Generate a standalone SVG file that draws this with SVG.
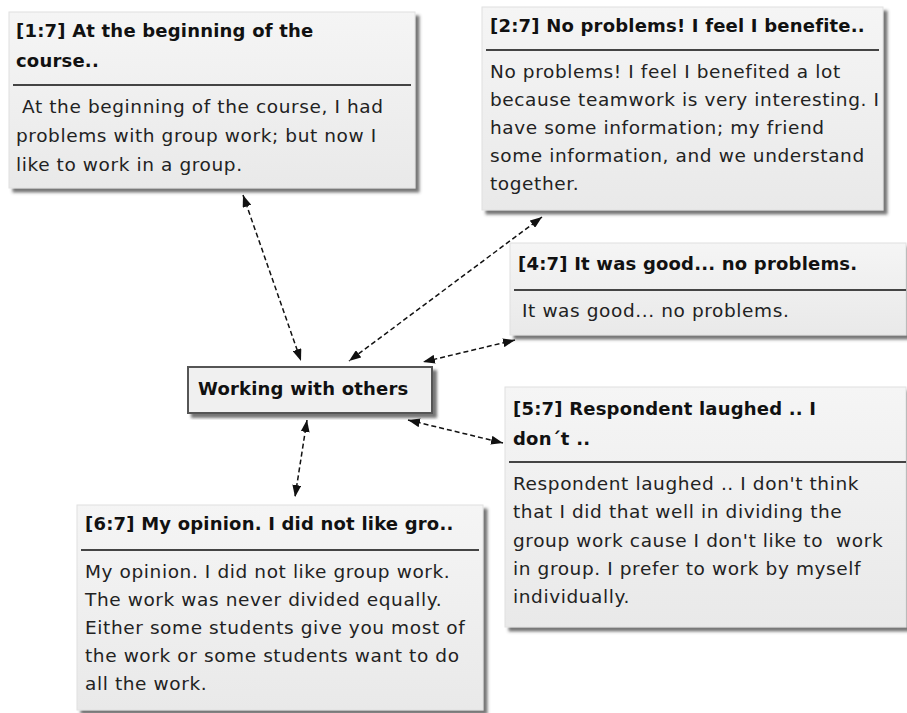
<svg xmlns="http://www.w3.org/2000/svg" width="907" height="713" viewBox="0 0 907 713">
<defs>
<linearGradient id="g" x1="0" y1="0" x2="0" y2="1">
<stop offset="0" stop-color="#f5f5f5"/>
<stop offset="1" stop-color="#e9e9e9"/>
</linearGradient>
<filter id="sh" x="-5%" y="-5%" width="115%" height="120%">
<feDropShadow dx="4" dy="4" stdDeviation="1.5" flood-color="#555" flood-opacity="0.8"/>
</filter>
<marker id="ah" viewBox="0 0 12 9" refX="12" refY="4.5" markerWidth="12" markerHeight="9" markerUnits="userSpaceOnUse" orient="auto-start-reverse">
<path d="M0,0 L12,4.5 L0,9 z" fill="#111"/>
</marker>
</defs>
<style>
.box{fill:url(#g);stroke:#e0e0e0;stroke-width:1;filter:url(#sh)}
.div{stroke:#444;stroke-width:2}
.t{font-family:"DejaVu Sans",Tahoma,sans-serif;font-size:18px;letter-spacing:0.2px;font-weight:bold;fill:#111}
.b{font-family:"DejaVu Sans",Tahoma,sans-serif;font-size:18.5px;letter-spacing:0.6px;fill:#222}
.c{fill:none;stroke:#111;stroke-width:1.5;stroke-dasharray:5,3;marker-start:url(#ah);marker-end:url(#ah)}
</style>
<rect width="907" height="713" fill="#fff"/>
<g id="connectors">
<line class="c" x1="243" y1="195" x2="301" y2="361"/>
<line class="c" x1="542" y1="217" x2="349" y2="361"/>
<line class="c" x1="515" y1="340" x2="423" y2="362"/>
<line class="c" x1="408" y1="420" x2="503" y2="443"/>
<line class="c" x1="307" y1="420" x2="295" y2="497"/>
</g>
<g id="n1">
<rect class="box" x="9" y="12" width="406" height="176"/>
<line class="div" x1="13" y1="85" x2="411" y2="85"/>
<text class="t" x="16" y="37">[1:7] At the beginning of the</text>
<text class="t" x="16" y="67">course..</text>
<text class="b" x="22" y="113">At the beginning of the course, I had</text>
<text class="b" x="16" y="142">problems with group work; but now I</text>
<text class="b" x="16" y="171">like to work in a group.</text>
</g>
<g id="n2">
<rect class="box" x="482" y="7" width="401" height="203"/>
<line class="div" x1="486" y1="50" x2="879" y2="50"/>
<text class="t" x="490" y="32">[2:7] No problems! I feel I benefite..</text>
<text class="b" x="490" y="78">No problems! I feel I benefited a lot</text>
<text class="b" x="490" y="106">because teamwork is very interesting. I</text>
<text class="b" x="490" y="134">have some information; my friend</text>
<text class="b" x="490" y="162">some information, and we understand</text>
<text class="b" x="490" y="190">together.</text>
</g>
<g id="n4">
<rect class="box" x="510" y="243" width="396" height="92"/>
<line class="div" x1="514" y1="290" x2="906" y2="290"/>
<text class="t" x="518" y="270">[4:7] It was good... no problems.</text>
<text class="b" x="522" y="317">It was good... no problems.</text>
</g>
<g id="center">
<rect x="188" y="367" width="244" height="46" fill="#f0f0f0" stroke="#555" stroke-width="2" filter="url(#sh)"/>
<text class="t" x="198" y="395">Working with others</text>
</g>
<g id="n5">
<rect class="box" x="505" y="387" width="401" height="240"/>
<line class="div" x1="509" y1="462" x2="906" y2="462"/>
<text class="t" x="513" y="415">[5:7] Respondent laughed .. I</text>
<text class="t" x="513" y="445">don´t ..</text>
<text class="b" x="513" y="490">Respondent laughed .. I don't think</text>
<text class="b" x="513" y="518">that I did that well in dividing the</text>
<text class="b" x="513" y="547" xml:space="preserve">group work cause I don't like to  work</text>
<text class="b" x="513" y="575">in group. I prefer to work by myself</text>
<text class="b" x="513" y="603">individually.</text>
</g>
<g id="n6">
<rect class="box" x="77" y="505" width="406" height="205"/>
<line class="div" x1="81" y1="550" x2="479" y2="550"/>
<text class="t" x="85" y="530">[6:7] My opinion. I did not like gro..</text>
<text class="b" x="85" y="578">My opinion. I did not like group work.</text>
<text class="b" x="85" y="606">The work was never divided equally.</text>
<text class="b" x="85" y="634">Either some students give you most of</text>
<text class="b" x="85" y="662">the work or some students want to do</text>
<text class="b" x="85" y="690">all the work.</text>
</g>
</svg>
